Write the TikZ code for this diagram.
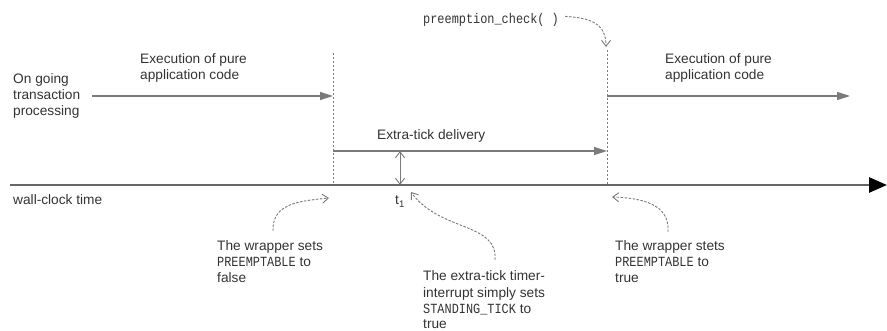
\documentclass[tikz,border=0pt]{standalone}
\usepackage{fontspec}
\usepackage{graphicx}
\setmainfont{Liberation Sans}
\setmonofont{Liberation Mono}
\usetikzlibrary{arrows.meta}
\definecolor{ink}{HTML}{333333}
\definecolor{rule}{HTML}{7A7A7A}
\definecolor{axis}{HTML}{666666}
\tikzset{
  lbl/.style={anchor=base west, inner sep=0pt, text=ink, font=\fontsize{13.7}{16}\selectfont, align=left},
  flow/.style={draw=rule, line width=1.3pt, -{Triangle[length=13pt,width=8pt]}},
  mark line/.style={draw=rule, line width=0.8pt, dash pattern=on 2pt off 2pt},
  pointer/.style={draw=rule, line width=0.9pt, dash pattern=on 2.5pt off 1.5pt, -{Straight Barb[length=6pt,width=9pt]}},
  gap/.style={draw=rule, line width=0.9pt, {Straight Barb[length=6pt,width=9pt]}-{Straight Barb[length=6pt,width=9pt]}},
}
% narrow, tall monospace for identifiers
\newcommand{\code}[1]{\scalebox{0.85}[1]{\ttfamily\fontsize{14}{16}\selectfont #1}}
\begin{document}
\begin{tikzpicture}[x=1pt,y=-1pt]
  \useasboundingbox (0,0) rectangle (887,331);

  % time axis
  \coordinate (t0) at (10,185);
  \coordinate (tend) at (887,185);
  \draw[draw=axis, line width=2.6pt, -{Triangle[length=18pt,width=15pt,color=black]}] (t0) -- (tend);
  \node[lbl] (wall) at (13,205) {wall-clock time};

  % instants on the axis
  \coordinate (aTop) at (333,53);
  \coordinate (aBot) at (333,185);
  \coordinate (bTop) at (607,50);
  \coordinate (bBot) at (607,185);
  \draw[mark line] (aTop) -- (aBot);
  \draw[mark line] (bTop) -- (bBot);

  % application execution before and after (node base = last line)
  \node[lbl] (ongoing) at (13,116) {On going\\transaction\\processing};
  \coordinate (f1s) at (92,96);
  \coordinate (f1e) at (333,96);
  \draw[flow] (f1s) -- (f1e);
  \node[lbl] (exec1) at (140,80) {Execution of pure\\application code};

  \coordinate (f2s) at (607,96);
  \coordinate (f2e) at (850,96);
  \draw[flow] (f2s) -- (f2e);
  \node[lbl] (exec2) at (665,80) {Execution of pure\\application code};

  % extra-tick delivery interval
  \coordinate (d1) at (333,151);
  \coordinate (d2) at (607,151);
  \draw[flow] (d1) -- (d2);
  \node[lbl] (deliv) at (377,140) {Extra-tick delivery};

  \coordinate (g1) at (400,151);
  \coordinate (g2) at (400,185);
  \draw[gap] (g1) -- (g2);
  \node[lbl] (t1) at (395,205) {t\textsubscript{1}};

  % preemption check
  \node[lbl] (chk) at (423,24) {\code{preemption\_check( )}};
  \coordinate (chkTo) at (606,47);
  \draw[pointer] (chk.east) ++(6,-4) coordinate (chkFrom)
        .. controls (592,18) and (606,24) .. (chkTo);

  % annotations below the axis
  \node[lbl] (wrapA) at (217,283) {The wrapper sets\\\code{PREEMPTABLE} to\\false};
  \coordinate (wAfrom) at (273,231);
  \coordinate (wAto) at (329,198);
  \draw[pointer] (wAfrom) .. controls (272,203) and (300,201) .. (wAto);

  \node[lbl] (tick) at (423,329) {The extra-tick timer-\\interrupt simply sets\\\code{STANDING\_TICK} to\\true};
  \coordinate (tkfrom) at (495,260);
  \coordinate (tkto) at (411,192);
  \draw[pointer] (tkfrom) .. controls (498,222) and (440,232) .. (tkto);

  \node[lbl] (wrapB) at (615,283) {The wrapper stets\\\code{PREEMPTABLE} to\\true};
  \coordinate (wBfrom) at (668,232);
  \coordinate (wBto) at (612,197);
  \draw[pointer] (wBfrom) .. controls (670,204) and (642,198) .. (wBto);
\end{tikzpicture}
\end{document}
